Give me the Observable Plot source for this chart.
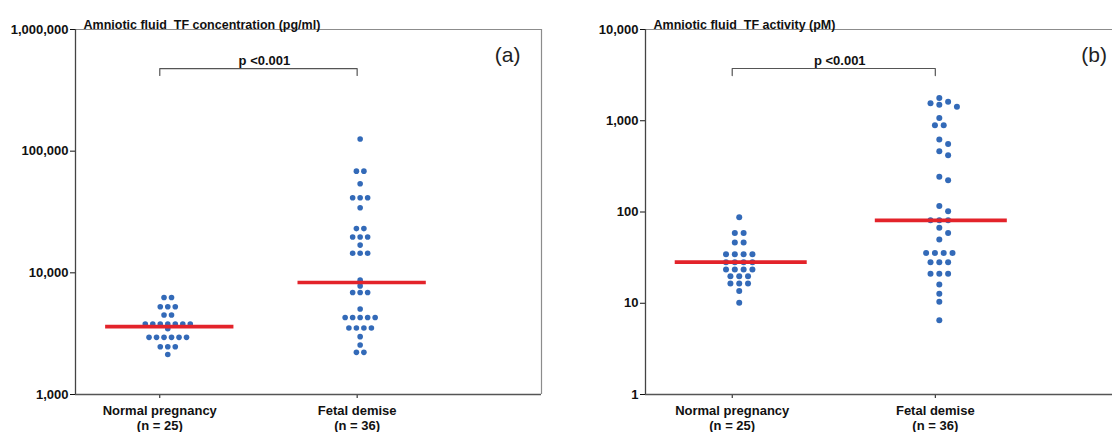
<!DOCTYPE html>
<html><head><meta charset="utf-8">
<script src="https://cdn.jsdelivr.net/npm/d3@7"></script>
<script src="https://cdn.jsdelivr.net/npm/@observablehq/plot@0.6"></script>
<style>
html,body{margin:0;padding:0;background:#fff;overflow:hidden;width:1112px;height:432px}
#wrap{position:relative;width:1112px;height:432px;overflow:hidden;background:#fff}
#a,#b{position:absolute;top:0;overflow:hidden;height:432px}
#a{left:0;width:560px}#b{left:560px;width:552px}
#wrap svg{max-width:none !important}
svg text{white-space:pre}
</style></head><body><div id="wrap"><div id="a"></div><div id="b"></div></div>
<script>
// ---- data ----
const groups = ["Normal pregnancy", "Fetal demise"];
const groupN = [25, 36];
const concTitle = "Amniotic fluid  TF concentration (pg/ml)";
const actTitle = "Amniotic fluid  TF activity (pM)";
const concTicks = [1000, 10000, 100000, 1000000];
const actTicks = [1, 10, 100, 1000, 10000];
const pLabel = "p <0.001";
const panelLabels = ["(a)", "(b)"];

const concNormal = [6270, 6270, 5260, 5260, 5260, 4500, 4500,
  3800, 3800, 3800, 3800, 3800, 3800, 3800, 3475,
  2950, 2950, 2950, 2950, 2950, 2950, 2470, 2470, 2470, 2130];
const concFetal = [126000, 68500, 68500, 54000, 41400, 41400, 41400, 34300,
  23100, 23100, 19700, 19700, 19700, 16900, 14500, 14500, 14500,
  8710, 7810, 6900, 6900, 6900, 5040, 4300, 4300, 4300, 4300, 4300,
  3520, 3520, 3520, 3520, 2990, 2550, 2220, 2220];
const concMedian = [3610, 8320];

const actNormal = [87.7, 59, 59, 46.3, 46.3, 34.5, 34.5, 34.5, 34.5,
  28.2, 28.2, 28.2, 28.2, 23.4, 23.4, 23.4, 23.4, 19.8, 19.8, 19.8,
  16.5, 16.5, 16.5, 13.6, 10.1];
const actFetal = [1780, 1620, 1560, 1500, 1420, 1075, 894, 894, 623, 557, 464, 419,
  243, 223, 116, 102, 81.3, 81.3, 81.3, 67, 59, 50,
  35.6, 35.6, 35.6, 35.6, 28.2, 28.2, 28.2, 21, 21, 21, 16, 12.7, 10.4, 6.5];
const actMedian = [28.2, 81];

// bracket (low end, high end) and p-label height, in data units
const concBracket = [419000, 477000, 556000];
const actBracket = [3130, 3740, 4570];

// ---- layout helpers ----
const H = 432, MT = 29, MB = 38;
const FONT = "'Liberation Sans', Arial, Helvetica, sans-serif";

function swarm(values, yPx, thr) {
  const sorted = values.slice().sort((a, b) => b - a);
  const rows = d3.groups(sorted, v => v);
  const placed = [], out = [];
  const shifts = [0, 1, -1, 2, -2, 3, -3, 4, -4];
  for (const [v, arr] of rows) {
    const n = arr.length, py = yPx(v);
    const base = arr.map((_, i) => i - (n - 1) / 2);
    let s = shifts.find(s => base.every(b => placed.every(p =>
      Math.abs(p.c - (b + s)) >= 0.9 || Math.abs(p.py - py) >= thr)));
    if (s === undefined) s = 0;
    for (const b of base) { placed.push({c: b + s, py}); out.push({value: v, col: b + s}); }
  }
  return out;
}

function panel(cfg) {
  const xDom = [0.573, 2.934];
  const x0 = cfg.marginLeft, x1 = cfg.width - cfg.marginRight;
  const pxPerUnit = (x1 - x0) / (xDom[1] - xDom[0]);
  const yPx = d3.scaleLog().domain(cfg.yDomain).range([H - MB, MT]);
  const dotMarks = [], medMarks = [];
  cfg.series.forEach((vals, gi) => {
    const pts = swarm(vals, yPx, cfg.thr).map(d => ({value: d.value, x: gi + 1 + d.col * cfg.spacing / pxPerUnit}));
    dotMarks.push(Plot.dot(pts, {x: "x", y: "value", r: cfg.r, fill: "#336ab8", dx: cfg.shift[gi]}));
    medMarks.push(Plot.ruleY([cfg.median[gi]], {x1: gi + 1 - 0.325, x2: gi + 1 + 0.325, y: d => d,
      stroke: "#e3232a", strokeWidth: 3.6, dx: cfg.shift[gi] + 2}));
  });
  const b = cfg.bracket;
  return Plot.plot({
    width: cfg.width, height: H,
    marginLeft: cfg.marginLeft, marginRight: cfg.marginRight, marginTop: MT, marginBottom: MB,
    style: {fontFamily: FONT, fontSize: "13px", fontWeight: "bold", color: "#111", background: "transparent", maxWidth: "none"},
    x: {domain: xDom, ticks: [1, 2], tickFormat: () => "", tickSize: 4, label: null},
    y: {type: "log", domain: cfg.yDomain, ticks: cfg.ticks, tickFormat: d3.format(","), tickSize: 5, tickPadding: 2, label: null},
    marks: [
      Plot.ruleY([cfg.yDomain[1]], {stroke: "#8c8c8c", strokeWidth: 1.2}),
      Plot.ruleX([xDom[1]], {stroke: "#8c8c8c", strokeWidth: 1.2}),
      Plot.ruleY([cfg.yDomain[0]], {stroke: "#555", strokeWidth: 1.3}),
      Plot.ruleX([xDom[0]], {stroke: "#444", strokeWidth: 1.3}),
      ...dotMarks,
      ...medMarks,
      Plot.line([[1, b[0]], [1, b[1]], [2, b[1]], [2, b[0]]], {x: d => d[0], y: d => d[1], stroke: "#555", strokeWidth: 1.2}),
      Plot.text([pLabel], {x: 1.5, y: b[2], text: d => d, fontSize: 13, fontWeight: "bold", dx: 6, fill: "#111"}),
      Plot.text([cfg.title], {frameAnchor: "top-left", text: d => d, textAnchor: "start", dx: 8, dy: -9, fontSize: 12.5, fontWeight: "bold", fill: "#111"}),
      Plot.text([cfg.tag], {frameAnchor: "top-right", text: d => d, textAnchor: "end", lineAnchor: "middle", dx: cfg.tagDx, dy: 26, fontSize: 21, fontWeight: "normal", fill: "#222"}),
      Plot.text(groups.map((g, i) => ({x: i + 1, t: `${g}\n(n = ${groupN[i]})`})),
        {x: "x", frameAnchor: "bottom", text: "t", lineAnchor: "top", dy: 10, lineHeight: 1.15, fontSize: 13, fontWeight: "bold", fill: "#111"})
    ]
  });
}

document.getElementById("a").append(panel({
  width: 560, marginLeft: 75, marginRight: 19, yDomain: [1000, 1e6], ticks: concTicks,
  series: [concNormal, concFetal], median: concMedian, bracket: concBracket,
  title: concTitle, tag: panelLabels[0], tagDx: -21, r: 2.8, spacing: 7.5, thr: 4.5, shift: [8, 3]
}));
document.getElementById("b").append(panel({
  width: 600, marginLeft: 85, marginRight: 35.5, yDomain: [1, 1e4], ticks: actTicks,
  series: [actNormal, actFetal], median: actMedian, bracket: actBracket,
  title: actTitle, tag: panelLabels[1], tagDx: -18, r: 3, spacing: 8.8, thr: 5.5, shift: [7, 4]
}));
</script></body></html>
